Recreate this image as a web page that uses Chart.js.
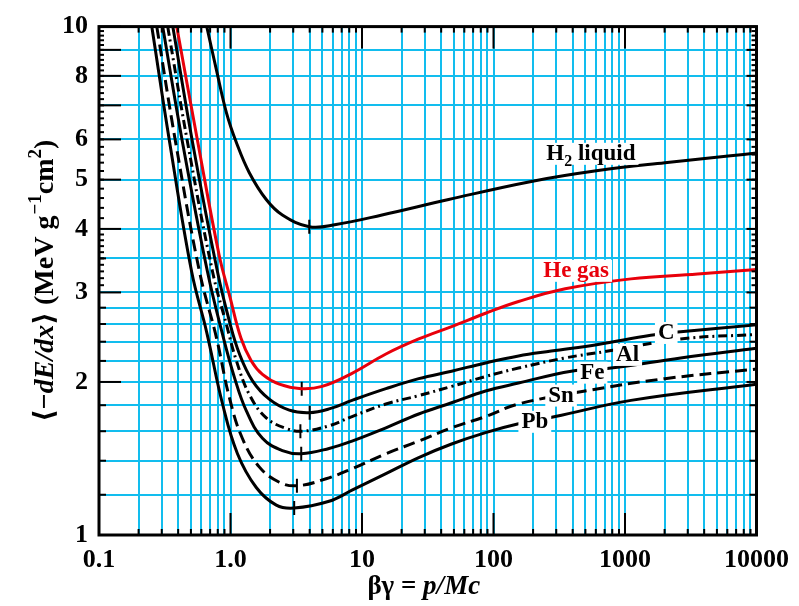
<!DOCTYPE html>
<html>
<head>
<meta charset="utf-8">
<script src="https://cdn.jsdelivr.net/npm/chart.js@4.4.0/dist/chart.umd.min.js"></script>
<style>
  html, body { margin: 0; padding: 0; background: #fff; }
</style>
</head>
<body>
<canvas id="chart" width="799" height="606"></canvas>
<script>
// Mean stopping power vs. beta*gamma, one pair of arrays per material
const bgH2   = [0.66, 0.783, 0.933, 1.11, 1.39, 1.87, 2.48, 3.97, 6.35, 14.2, 45.6, 194, 624, 2010, 6350, 10000];
const dedxH2 = [10, 8.2, 6.76, 5.91, 5.16, 4.57, 4.26, 4.04, 4.08, 4.26, 4.57, 4.96, 5.21, 5.40, 5.57, 5.64];

const bgHe   = [0.39, 0.565, 0.82, 0.99, 1.2, 1.44, 1.75, 2.35, 3.45, 4.97, 8.4, 15.2, 27, 48, 87, 155, 351, 1110, 3570, 10000];
const dedxHe = [10, 5.91, 3.55, 2.94, 2.44, 2.20, 2.07, 1.98, 1.94, 1.96, 2.08, 2.27, 2.43, 2.57, 2.73, 2.88, 3.05, 3.19, 3.26, 3.33];

const bgC    = [0.364, 0.515, 0.797, 0.982, 1.17, 1.47, 1.97, 2.80, 3.97, 5.62, 8.4, 15.2, 27, 48, 87, 155, 275, 624, 1570, 2650, 10000];
const dedxC  = [10, 5.91, 3.29, 2.63, 2.27, 2.01, 1.85, 1.76, 1.74, 1.77, 1.84, 1.94, 2.03, 2.10, 2.18, 2.25, 2.30, 2.37, 2.47, 2.51, 2.59];

const bgAl   = [0.333, 0.472, 0.731, 0.933, 1.11, 1.39, 1.87, 2.66, 3.51, 5.62, 8.4, 15.2, 27, 48, 87, 155, 351, 743, 2650, 10000];
const dedxAl = [10, 5.91, 3.29, 2.59, 2.20, 1.89, 1.70, 1.62, 1.60, 1.64, 1.71, 1.81, 1.88, 1.96, 2.05, 2.13, 2.23, 2.30, 2.43, 2.48];

const bgFe   = [0.305, 0.432, 0.669, 0.87, 1.072, 1.32, 1.75, 2.48, 3.45, 5.62, 8.4, 15.2, 27, 48, 87, 155, 390, 783, 2650, 10000];
const dedxFe = [10, 5.91, 3.29, 2.48, 2.04, 1.754, 1.55, 1.466, 1.445, 1.48, 1.53, 1.625, 1.73, 1.82, 1.92, 1.99, 2.10, 2.13, 2.23, 2.33];

const bgSn   = [0.275, 0.383, 0.582, 0.783, 0.982, 1.23, 1.66, 2.35, 3.22, 5.33, 8.4, 15.2, 27, 48, 87, 155, 497, 2010, 10000];
const dedxSn = [10, 5.91, 3.29, 2.44, 1.86, 1.55, 1.36, 1.27, 1.25, 1.29, 1.35, 1.445, 1.53, 1.625, 1.71, 1.81, 1.92, 2.03, 2.12];

const bgPb   = [0.252, 0.345, 0.507, 0.658, 0.87, 1.13, 1.57, 2.23, 3.05, 5.62, 8.4, 15.2, 27, 48, 87, 155, 295, 1110, 10000];
const dedxPb = [10, 5.91, 3.29, 2.51, 1.81, 1.445, 1.24, 1.145, 1.13, 1.165, 1.225, 1.32, 1.42, 1.51, 1.59, 1.655, 1.71, 1.84, 1.98];

// minimum-ionization markers (H2, He, C, Al, Fe, Sn, Pb)
const minBG   = [3.97, 3.48, 4.0, 3.4, 3.45, 3.2, 3.05];
const minDEDX = [4.04, 1.94, 1.74, 1.60, 1.445, 1.25, 1.13];

// curve labels, anchored at (beta*gamma, dE/dx) of their left baseline
const labelText  = ['H|2| liquid', 'He gas', 'C', 'Al', 'Fe', 'Sn', 'Pb'];
const labelBG    = [252, 239, 1780, 855, 456, 261, 163];
const labelDEDX  = [5.47, 3.22, 2.43, 2.20, 2.03, 1.83, 1.625];
const labelColor = ['#000', '#e8000b', '#000', '#000', '#000', '#000', '#000'];

// axis ticks
const xDecades     = [0.1, 1, 10, 100, 1000, 10000];
const xDecadeText  = ['0.1', '1.0', '10', '100', '1000', '10000'];
const yGridValues  = [1, 1.2, 1.4, 1.6, 1.8, 2, 2.2, 2.4, 2.6, 2.8, 3, 3.5, 4, 5, 6, 7, 8, 9, 10];
const yLabelValues = [1, 2, 3, 4, 5, 6, 8, 10];

const SERIF = '"Liberation Serif", "DejaVu Serif", serif';
const GRID = '#12bdee';

const xGridValues = [];
xDecades.slice(0, -1).forEach(d => { for (let m = 1; m <= 9; m++) xGridValues.push(d * m); });
xGridValues.push(10000);

const yMinor = [];
for (let v = 3.1; v < 3.95; v += 0.1) yMinor.push(v);
for (let v = 4.2; v < 9.95; v += 0.2) yMinor.push(v);

function pts(xs, ys) { return xs.map((x, i) => ({ x: x, y: ys[i] })); }

function curve(xs, ys, color, dash) {
    return {
        data: pts(xs, ys),
        borderColor: color,
        borderWidth: 3,
        borderDash: dash || [],
        pointRadius: 0,
        tension: 0.4,
        fill: false
    };
}

function isDecade(v) {
    return xDecades.some(d => Math.abs(v / d - 1) < 1e-6);
}

// draws a run of differently styled text pieces starting at x on baseline y
function richText(ctx, parts, x, y, align) {
    let total = 0;
    parts.forEach(p => { ctx.font = p.font; total += ctx.measureText(p.text).width + (p.gap || 0); });
    let cx = align === 'center' ? x - total / 2 : x;
    parts.forEach(p => {
        ctx.font = p.font;
        ctx.fillText(p.text, cx, y + (p.dy || 0));
        cx += ctx.measureText(p.text).width + (p.gap || 0);
    });
    return total;
}

const decorations = {
    id: 'decorations',
    afterDatasetsDraw(chart) {
        const ctx = chart.ctx, xs = chart.scales.x, ys = chart.scales.y;
        ctx.save();
        ctx.textBaseline = 'alphabetic';
        ctx.textAlign = 'left';
        labelText.forEach((t, i) => {
            const px = xs.getPixelForValue(labelBG[i]);
            const py = ys.getPixelForValue(labelDEDX[i]);
            const pieces = t.split('|');
            const parts = [];
            pieces.forEach((s, k) => {
                if (!s) return;
                if (k % 2 === 1) parts.push({ text: s, font: 'bold 16px ' + SERIF, dy: 6 });
                else parts.push({ text: s, font: 'bold 23px ' + SERIF });
            });
            let w = 0;
            parts.forEach(p => { ctx.font = p.font; w += ctx.measureText(p.text).width; });
            ctx.fillStyle = '#fff';
            ctx.fillRect(px - 3, py - 17, w + 6, 22);
            ctx.fillStyle = labelColor[i];
            richText(ctx, parts, px, py, 'left');
        });
        ctx.restore();
    },
    afterDraw(chart) {
        const ctx = chart.ctx, xs = chart.scales.x, ys = chart.scales.y, a = chart.chartArea;
        ctx.save();
        ctx.strokeStyle = '#000';
        ctx.lineCap = 'butt';

        function seg(x1, y1, x2, y2) { ctx.beginPath(); ctx.moveTo(x1, y1); ctx.lineTo(x2, y2); ctx.stroke(); }

        // inward tick marks
        ctx.lineWidth = 2;
        xGridValues.forEach(v => {
            const p = xs.getPixelForValue(v);
            const len = isDecade(v) ? 22 : 6;
            seg(p, a.bottom, p, a.bottom - len);
            seg(p, a.top, p, a.top + len);
        });
        yGridValues.forEach(v => {
            const p = ys.getPixelForValue(v);
            const major = Number.isInteger(v);
            seg(a.left, p, a.left + (major ? 22 : 7), p);
            seg(a.right, p, a.right - (major ? 10 : 7), p);
        });
        yMinor.forEach(v => {
            const p = ys.getPixelForValue(v);
            seg(a.left, p, a.left + 5, p);
            seg(a.right, p, a.right - 5, p);
        });

        // frame
        ctx.lineWidth = 3;
        ctx.strokeRect(a.left, a.top, a.right - a.left, a.bottom - a.top);

        // axis titles
        ctx.fillStyle = '#000';
        ctx.textBaseline = 'alphabetic';
        const big = 'bold 28px ' + SERIF, it = 'italic bold 28px ' + SERIF, sup = 'bold 19px ' + SERIF;
        richText(ctx, [
            { text: '\u03b2\u03b3 = ', font: 'bold 27px ' + SERIF },
            { text: 'p/Mc', font: 'italic bold 27px ' + SERIF }
        ], (a.left + a.right) / 2 - 4, 594, 'center');

        ctx.translate(53, (a.top + a.bottom) / 2);
        ctx.rotate(-Math.PI / 2);
        richText(ctx, [
            { text: '\u27e8\u2212', font: big },
            { text: 'dE/dx', font: it },
            { text: '\u27e9 (MeV g', font: big, gap: 1 },
            { text: '\u22121', font: sup, dy: -12 },
            { text: 'cm', font: big },
            { text: '2', font: sup, dy: -12 },
            { text: ')', font: big }
        ], 0, 0, 'center');
        ctx.restore();
    }
};

new Chart(document.getElementById('chart'), {
    type: 'line',
    data: {
        datasets: [
            curve(bgH2, dedxH2, '#000'),
            curve(bgHe, dedxHe, '#e8000b'),
            curve(bgC, dedxC, '#000'),
            curve(bgAl, dedxAl, '#000', [9, 4, 2, 4]),
            curve(bgFe, dedxFe, '#000'),
            curve(bgSn, dedxSn, '#000', [12, 6]),
            curve(bgPb, dedxPb, '#000'),
            {
                data: pts(minBG, minDEDX),
                showLine: false,
                pointStyle: 'line',
                rotation: 90,
                pointRadius: 7,
                borderWidth: 2,
                borderColor: '#000',
                backgroundColor: '#000'
            }
        ]
    },
    options: {
        responsive: false,
        animation: false,
        layout: { padding: { top: 23, right: 40, left: 0, bottom: 0 } },
        plugins: { legend: { display: false }, tooltip: { enabled: false } },
        scales: {
            x: {
                type: 'logarithmic',
                min: 0.1,
                max: 10000,
                afterFit(scale) { scale.height = 71; },
                afterBuildTicks(scale) { scale.ticks = xGridValues.map(v => ({ value: v })); },
                grid: { color: GRID, lineWidth: 2, drawTicks: false },
                border: { display: false },
                ticks: {
                    autoSkip: false,
                    maxRotation: 0,
                    minRotation: 0,
                    padding: 10,
                    color: '#000',
                    font: { family: SERIF, weight: 'bold', size: 26 },
                    callback(value) {
                        const i = xDecades.findIndex(d => Math.abs(value / d - 1) < 1e-6);
                        return i >= 0 ? xDecadeText[i] : '';
                    }
                }
            },
            y: {
                type: 'logarithmic',
                min: 1,
                max: 10,
                afterFit(scale) { scale.width = 99; },
                afterBuildTicks(scale) { scale.ticks = yGridValues.map(v => ({ value: v })); },
                grid: { color: GRID, lineWidth: 2, drawTicks: false },
                border: { display: false },
                ticks: {
                    autoSkip: false,
                    padding: 11,
                    color: '#000',
                    font: { family: SERIF, weight: 'bold', size: 26 },
                    callback(value) {
                        return yLabelValues.includes(value) ? String(value) : '';
                    }
                }
            }
        }
    },
    plugins: [decorations]
});
</script>
</body>
</html>
